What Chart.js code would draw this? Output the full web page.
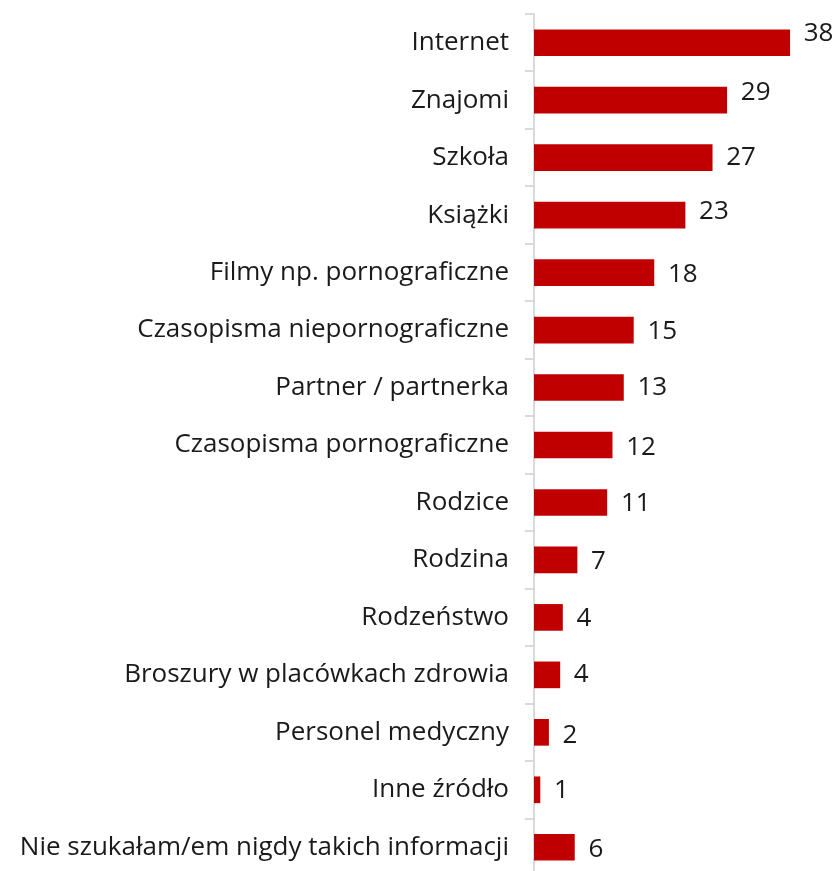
<!DOCTYPE html>
<html>
<head>
<meta charset="utf-8">
<script src="https://cdn.jsdelivr.net/npm/chart.js@4"></script>
<style>
    html, body { margin: 0; padding: 0; background: #fff; overflow: hidden; }
</style>
</head>
<body>
<canvas id="sourcesChart" width="839" height="876"></canvas>
<script>
// --- Data ---
const categories = [
    'Internet',
    'Znajomi',
    'Szkoła',
    'Książki',
    'Filmy np. pornograficzne',
    'Czasopisma niepornograficzne',
    'Partner / partnerka',
    'Czasopisma pornograficzne',
    'Rodzice',
    'Rodzina',
    'Rodzeństwo',
    'Broszury w placówkach zdrowia',
    'Personel medyczny',
    'Inne źródło',
    'Nie szukałam/em nigdy takich informacji'
];
const values = [38.6, 29.1, 26.9, 22.8, 18.1, 15.0, 13.5, 11.8, 11.0, 6.5, 4.3, 3.9, 2.2, 0.9, 6.1];
const valueLabels = ['38', '29', '27', '23', '18', '15', '13', '12', '11', '7', '4', '4', '2', '1', '6'];

// small vertical nudges of the value labels, as in the original
const labelShift = [-9, -8, 0, -4, 2, 1.5, 0, 2.5, 1, 2, 1, 0, 3, 1, 2];

const FONT = '"Open Sans", Lato, sans-serif';

// draws the number next to the end of each bar
const valueLabelPlugin = {
    id: 'valueLabels',
    afterDatasetsDraw(chart) {
        const ctx = chart.ctx;
        const meta = chart.getDatasetMeta(0);
        ctx.save();
        ctx.font = `26px ${FONT}`;
        ctx.fillStyle = '#1a1a1a';
        ctx.textAlign = 'left';
        ctx.textBaseline = 'middle';
        meta.data.forEach((bar, i) => {
            ctx.fillText(valueLabels[i], bar.x + 14, bar.y + labelShift[i]);
        });
        ctx.restore();
    }
};

new Chart(document.getElementById('sourcesChart'), {
    type: 'bar',
    data: {
        labels: categories,
        datasets: [{
            data: values,
            backgroundColor: '#c00000',
            borderWidth: 0,
            barThickness: 26
        }]
    },
    options: {
        indexAxis: 'y',
        responsive: false,
        animation: false,
        layout: { padding: { top: 14, right: 40, bottom: 0, left: 0 } },
        plugins: {
            legend: { display: false },
            tooltip: { enabled: false }
        },
        scales: {
            x: {
                display: false,
                min: 0,
                max: 40
            },
            y: {
                // fixed axis width, and no extra room for the first/last label
                afterFit: (scale) => {
                    scale.width = 534;
                    scale.paddingTop = 0;
                    scale.paddingBottom = 0;
                },
                grid: {
                    offset: true,
                    drawOnChartArea: false,
                    drawTicks: true,
                    tickLength: 9,
                    color: '#d9d9d9',
                    lineWidth: 2
                },
                border: { display: true, color: '#d9d9d9', width: 2 },
                ticks: {
                    color: '#1a1a1a',
                    padding: 16,
                    font: { family: FONT, size: 26 }
                }
            }
        }
    },
    plugins: [valueLabelPlugin]
});
</script>
</body>
</html>
